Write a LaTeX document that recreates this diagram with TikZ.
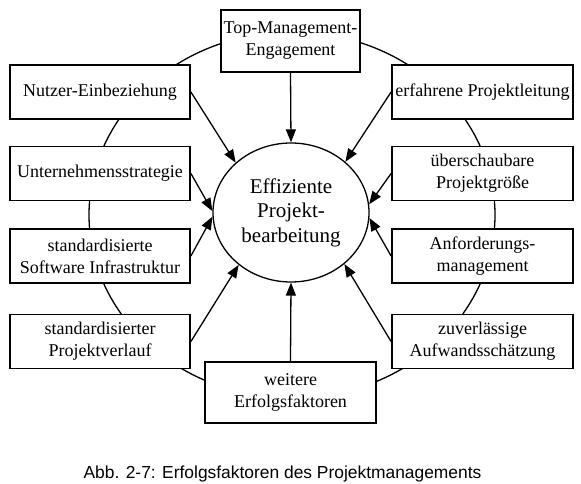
\documentclass[tikz,border=0pt]{standalone}
\usepackage{fontspec}
\setmainfont{Liberation Serif}
\newfontfamily\capfont{Liberation Sans}
\usetikzlibrary{shapes.geometric,arrows.meta}

\begin{document}
\begin{tikzpicture}[x=1pt,y=1pt,
  factor/.style={draw,line width=1.8pt,fill=white,align=center,inner sep=1pt,minimum height=54pt,font=\fontsize{18}{22}\selectfont},
  leftfac/.style={factor,minimum width=180pt},
  rightfac/.style={factor,minimum width=181pt},
  toeff/.style={-{Triangle[length=13pt,width=10pt]},line width=1.3pt}]
  \useasboundingbox (0,0) rectangle (581,483);
  \draw[line width=1.3pt] (292,268) ellipse [x radius=203,y radius=183];
  \node[ellipse,draw,line width=1.3pt,fill=white,minimum width=156pt,minimum height=139pt,inner sep=0pt,align=center,font=\fontsize{21}{24.5}\selectfont] (eff) at (291,270.5) {Effiziente\\Projekt-\\bearbeitung};
  % oben und unten
  \node[factor,minimum width=139pt,minimum height=62pt] (top) at (290.5,442) {Top-Management-\\Engagement};
  \node[factor,minimum width=171pt,minimum height=61pt] (weitere) at (290.5,90.5) {weitere\\Erfolgsfaktoren};
  % linke Seite
  \node[leftfac] (nutzer) at (100,391) {Nutzer-Einbeziehung};
  \node[leftfac] (strategie) at (100,309.5) {Unternehmensstrategie};
  \node[leftfac] (software) at (100,227) {standardisierte\\Software Infrastruktur};
  \node[leftfac] (verlauf) at (100,141.5) {standardisierter\\Projektverlauf};
  % rechte Seite
  \node[rightfac] (leitung) at (482.5,391) {erfahrene Projektleitung};
  \node[rightfac] (groesse) at (482.5,309.5) {überschaubare\\Projektgröße};
  \node[rightfac] (anforderung) at (482.5,227) {Anforderungs-\\management};
  \node[rightfac] (aufwand) at (482.5,141.5) {zuverlässige\\Aufwandsschätzung};
  \draw[toeff] (top.south) -- (eff.north); \draw[toeff] (weitere.north) -- (eff.south);
  \draw[toeff] (nutzer.east) -- (eff.138); \draw[toeff] (strategie.east) -- (eff.179);
  \draw[toeff] (software.east) -- (eff.183); \draw[toeff] (verlauf.east) -- (eff.225);
  \draw[toeff] (leitung.west) -- (eff.43); \draw[toeff] (groesse.west) -- (eff.6);
  \draw[toeff] (anforderung.west) -- (eff.356); \draw[toeff] (aufwand.west) -- (eff.316);
  \node[font=\capfont\fontsize{17.4}{20}\selectfont,anchor=base] (caption) at (282.5,4.5) {Abb. 2-7: Erfolgsfaktoren des Projektmanagements};
\end{tikzpicture}
\end{document}
